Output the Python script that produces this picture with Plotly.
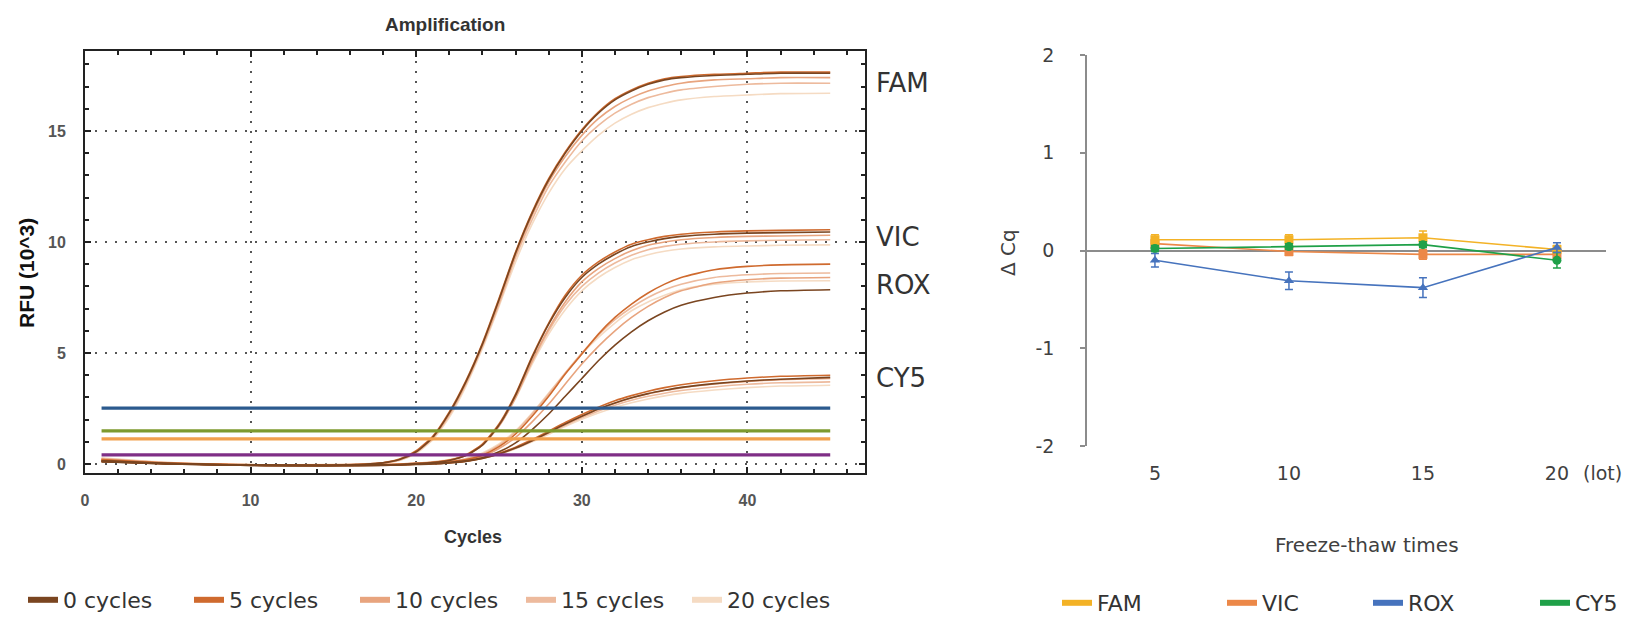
import plotly.graph_objects as go

# ---------------- Left chart data: amplification curves (RFU x10^3) ----------------
cycles = [1, 5, 10, 15, 18, 19, 20, 21, 22, 23, 24, 25, 26, 27, 28, 29, 30, 31, 32, 33, 34, 35, 36, 38, 40, 42, 45]

fam_0 = [0.15, 0.03, -0.06, -0.06, 0.05, 0.2, 0.55, 1.2, 2.3, 3.7, 5.4, 7.4, 9.5, 11.3, 12.8, 14.0, 15.0, 15.8, 16.4, 16.8, 17.1, 17.3, 17.4, 17.5, 17.55, 17.6, 17.6]
fam_5 = [0.2, 0.04, -0.05, -0.05, 0.06, 0.22, 0.6, 1.25, 2.35, 3.75, 5.45, 7.45, 9.55, 11.35, 12.85, 14.05, 15.05, 15.85, 16.45, 16.85, 17.15, 17.35, 17.45, 17.55, 17.6, 17.65, 17.65]
fam_10 = [0.22, 0.05, -0.05, -0.05, 0.05, 0.2, 0.55, 1.2, 2.25, 3.65, 5.35, 7.3, 9.4, 11.2, 12.7, 13.85, 14.8, 15.55, 16.1, 16.5, 16.8, 17.0, 17.15, 17.3, 17.35, 17.4, 17.4]
fam_15 = [0.25, 0.06, -0.04, -0.04, 0.05, 0.18, 0.52, 1.15, 2.2, 3.6, 5.3, 7.2, 9.3, 11.0, 12.5, 13.6, 14.55, 15.25, 15.8, 16.2, 16.5, 16.7, 16.85, 17.0, 17.1, 17.15, 17.15]
fam_20 = [0.28, 0.07, -0.03, -0.03, 0.04, 0.16, 0.48, 1.1, 2.1, 3.5, 5.2, 7.1, 9.1, 10.8, 12.2, 13.3, 14.1, 14.8, 15.35, 15.75, 16.05, 16.25, 16.4, 16.55, 16.62, 16.68, 16.7]

vic_0 = [0.1, 0.0, -0.05, -0.06, -0.04, -0.02, 0.02, 0.07, 0.16, 0.38, 0.85, 1.75, 3.1, 4.8, 6.3, 7.5, 8.4, 9.0, 9.45, 9.8, 10.0, 10.15, 10.25, 10.35, 10.4, 10.42, 10.45]
vic_5 = [0.12, 0.01, -0.05, -0.05, -0.03, -0.01, 0.03, 0.08, 0.18, 0.4, 0.9, 1.8, 3.15, 4.85, 6.35, 7.6, 8.5, 9.1, 9.55, 9.9, 10.1, 10.25, 10.35, 10.45, 10.5, 10.52, 10.55]
vic_10 = [0.15, 0.02, -0.04, -0.05, -0.03, -0.01, 0.03, 0.08, 0.17, 0.38, 0.85, 1.7, 3.0, 4.65, 6.1, 7.3, 8.2, 8.8, 9.25, 9.6, 9.85, 10.0, 10.1, 10.2, 10.25, 10.27, 10.3]
vic_15 = [0.18, 0.03, -0.04, -0.04, -0.02, 0.0, 0.04, 0.09, 0.18, 0.4, 0.88, 1.75, 3.0, 4.6, 6.0, 7.15, 8.0, 8.6, 9.05, 9.4, 9.65, 9.8, 9.9, 10.0, 10.05, 10.08, 10.1]
vic_20 = [0.2, 0.04, -0.03, -0.03, -0.02, 0.0, 0.04, 0.1, 0.2, 0.42, 0.9, 1.75, 2.95, 4.5, 5.85, 6.95, 7.8, 8.4, 8.85, 9.2, 9.42, 9.58, 9.68, 9.78, 9.82, 9.85, 9.87]

rox_0 = [0.15, 0.02, -0.06, -0.08, -0.06, -0.04, -0.01, 0.02, 0.07, 0.14, 0.28, 0.55, 0.95, 1.55, 2.25, 3.05, 3.85, 4.65, 5.35, 5.95, 6.45, 6.85, 7.15, 7.5, 7.7, 7.8, 7.85]
rox_5 = [0.18, 0.03, -0.05, -0.07, -0.05, -0.03, 0.0, 0.04, 0.1, 0.2, 0.4, 0.78, 1.35, 2.15, 3.05, 4.05, 4.95, 5.85, 6.6, 7.2, 7.7, 8.1, 8.4, 8.75, 8.9, 8.97, 9.0]
rox_10 = [0.2, 0.03, -0.05, -0.07, -0.05, -0.03, 0.0, 0.04, 0.09, 0.18, 0.35, 0.7, 1.2, 1.9, 2.7, 3.6, 4.5, 5.3, 6.0, 6.6, 7.1, 7.5, 7.8, 8.15, 8.3, 8.37, 8.4]
rox_15 = [0.22, 0.04, -0.04, -0.06, -0.04, -0.02, 0.01, 0.05, 0.11, 0.22, 0.45, 0.85, 1.45, 2.25, 3.15, 4.1, 5.0, 5.8, 6.5, 7.05, 7.5, 7.85, 8.1, 8.4, 8.52, 8.58, 8.6]
rox_20 = [0.25, 0.05, -0.03, -0.05, -0.04, -0.02, 0.02, 0.06, 0.12, 0.25, 0.5, 0.9, 1.5, 2.3, 3.2, 4.1, 4.95, 5.7, 6.35, 6.9, 7.3, 7.6, 7.85, 8.1, 8.2, 8.24, 8.25]

cy5_0 = [0.1, 0.0, -0.05, -0.07, -0.05, -0.04, -0.02, 0.0, 0.05, 0.12, 0.25, 0.45, 0.72, 1.05, 1.42, 1.8, 2.15, 2.48, 2.75, 2.98, 3.17, 3.32, 3.45, 3.62, 3.74, 3.82, 3.9]
cy5_5 = [0.12, 0.01, -0.05, -0.06, -0.05, -0.03, -0.01, 0.01, 0.06, 0.13, 0.27, 0.48, 0.76, 1.1, 1.48, 1.87, 2.23, 2.56, 2.85, 3.08, 3.28, 3.44, 3.57, 3.75, 3.87, 3.95, 4.0]
cy5_10 = [0.14, 0.02, -0.04, -0.06, -0.04, -0.03, -0.01, 0.01, 0.06, 0.13, 0.26, 0.46, 0.73, 1.06, 1.43, 1.8, 2.15, 2.47, 2.74, 2.97, 3.16, 3.31, 3.43, 3.6, 3.72, 3.8, 3.85]
cy5_15 = [0.16, 0.03, -0.04, -0.05, -0.04, -0.02, 0.0, 0.02, 0.06, 0.13, 0.26, 0.45, 0.71, 1.03, 1.39, 1.75, 2.08, 2.39, 2.65, 2.87, 3.05, 3.19, 3.31, 3.47, 3.59, 3.66, 3.7]
cy5_20 = [0.18, 0.04, -0.03, -0.05, -0.03, -0.02, 0.0, 0.02, 0.06, 0.13, 0.25, 0.44, 0.69, 1.0, 1.34, 1.69, 2.01, 2.3, 2.55, 2.76, 2.93, 3.07, 3.18, 3.33, 3.44, 3.51, 3.55]

conditions = ["0 cycles", "5 cycles", "10 cycles", "15 cycles", "20 cycles"]
cond_colors = ["#7A4520", "#CF6A2E", "#E8A47E", "#EDBA9D", "#F5DBC3"]

threshold_cycles = [1, 45]
threshold_values = [2.52, 1.49, 1.13, 0.41]
threshold_colors = ["#2B5A8E", "#7E9A2E", "#F2A04C", "#7F2F86"]

dye_labels = ["FAM", "VIC", "ROX", "CY5"]

# ---------------- Right chart data: delta Cq ----------------
ft_pos = [1, 2, 3, 4]
ft_labels = ["5", "10", "15", "20"]
dcq_ticks = [-2, -1, 0, 1, 2]
dcq_ticktext = ["-2", "-1", "0", "1", "2"]
fam_dcq = [0.11, 0.11, 0.13, 0.01]
fam_err = [0.05, 0.05, 0.07, 0.04]
vic_dcq = [0.07, -0.01, -0.04, -0.04]
vic_err = [0.04, 0.04, 0.05, 0.04]
rox_dcq = [-0.10, -0.31, -0.38, 0.03]
rox_err = [0.07, 0.09, 0.10, 0.05]
cy5_dcq = [0.02, 0.04, 0.06, -0.10]
cy5_err = [0.03, 0.03, 0.03, 0.08]
dye_colors = {"FAM": "#F3B226", "VIC": "#EC8848", "ROX": "#4673BD", "CY5": "#1FA048"}

W, H = 1635, 617
OFF = 8  # page body margin offset


def px(x):
    return (x - OFF) / W


def py(y):
    return 1 - (y - OFF) / H


fig = go.Figure()

curves = {
    "FAM": [fam_0, fam_5, fam_10, fam_15, fam_20],
    "VIC": [vic_0, vic_5, vic_10, vic_15, vic_20],
    "ROX": [rox_0, rox_5, rox_10, rox_15, rox_20],
    "CY5": [cy5_0, cy5_5, cy5_10, cy5_15, cy5_20],
}
# light first, dark on top
for ci in [4, 3, 2, 1, 0]:
    for dye in dye_labels:
        fig.add_trace(go.Scatter(
            x=cycles, y=curves[dye][ci], mode="lines",
            line=dict(color=cond_colors[ci], width=1.6, shape="spline", smoothing=0.6),
            showlegend=False, hoverinfo="skip", xaxis="x", yaxis="y"))

for val, col in zip(threshold_values, threshold_colors):
    fig.add_trace(go.Scatter(
        x=threshold_cycles, y=[val, val], mode="lines",
        line=dict(color=col, width=3.2), showlegend=False, hoverinfo="skip",
        xaxis="x", yaxis="y"))

# legend-only entries for left chart
for name, col in zip(conditions, cond_colors):
    fig.add_trace(go.Scatter(
        x=[None], y=[None], mode="lines", name=name,
        line=dict(color=col, width=6), legend="legend",
        xaxis="x", yaxis="y"))

# right chart series
right = [
    ("VIC", vic_dcq, vic_err, "square"),
    ("FAM", fam_dcq, fam_err, "square"),
    ("CY5", cy5_dcq, cy5_err, "circle"),
    ("ROX", rox_dcq, rox_err, "triangle-up"),
]
for name, vals, errs, sym in right:
    col = dye_colors[name]
    fig.add_trace(go.Scatter(
        x=ft_pos, y=vals, mode="lines+markers",
        line=dict(color=col, width=1.6),
        marker=dict(symbol=sym, size=9, color=col),
        error_y=dict(type="data", array=errs, color=col, thickness=1.5, width=4),
        showlegend=False, hoverinfo="skip", xaxis="x2", yaxis="y2"))

legend2_widths = {"FAM": 120, "VIC": 101, "ROX": 122, "CY5": 50}
for name in dye_labels:
    fig.add_trace(go.Scatter(
        x=[None], y=[None], mode="lines", name=name,
        line=dict(color=dye_colors[name], width=6), legend="legend2",
        legendwidth=legend2_widths[name],
        xaxis="x2", yaxis="y2"))

tickfont_left = dict(family="Liberation Sans, Arial, sans-serif", size=16, color="#555555", weight="bold")
axis_common_left = dict(
    showline=True, linecolor="#222222", linewidth=2, mirror="ticks",
    ticks="inside", ticklen=6, tickwidth=1.5, tickcolor="#222222",
    showgrid=True, gridcolor="#555555", gridwidth=1.5, griddash="2px,8px",
    zeroline=False, tickfont=tickfont_left,
)

gothic = "DejaVu Sans, Verdana, sans-serif"

fig.update_layout(
    width=W, height=H,
    margin=dict(l=0, r=0, t=0, b=0, autoexpand=False),
    paper_bgcolor="white", plot_bgcolor="white",
    xaxis=dict(domain=[px(85), px(865)], range=[0, 47.1], dtick=10, tick0=0,
               anchor="y", ticklabelstandoff=12,
               minor=dict(dtick=2, tick0=0, ticks="inside", ticklen=4, tickcolor="#222222", showgrid=False),
               **axis_common_left),
    yaxis=dict(domain=[py(473), py(51)], range=[-0.405, 18.6], dtick=5, tick0=0,
               anchor="x", ticklabelstandoff=14,
               minor=dict(dtick=1, tick0=0, ticks="inside", ticklen=4, tickcolor="#222222", showgrid=False),
               **axis_common_left),
    xaxis2=dict(domain=[px(1087), px(1606)], range=[0.493, 4.366], anchor="y2",
                tickvals=ft_pos, ticktext=ft_labels, showline=False, ticks="",
                showgrid=False, zeroline=False, ticklabelstandoff=14,
                tickfont=dict(family=gothic, size=19, color="#404040")),
    yaxis2=dict(domain=[py(446), py(55)], range=[-2, 2], anchor="x2",
                tickvals=dcq_ticks, ticktext=dcq_ticktext,
                showline=True, linecolor="#8c8c8c", linewidth=1.5,
                ticks="outside", ticklen=5, tickcolor="#8c8c8c", tickwidth=1.5,
                showgrid=False, zeroline=True, zerolinecolor="#8c8c8c", zerolinewidth=1.5,
                ticklabelstandoff=22,
                tickfont=dict(family=gothic, size=19, color="#404040")),
    legend=dict(orientation="h", x=px(23), y=py(600), xanchor="left", yanchor="middle",
                entrywidth=121, entrywidthmode="pixels", bgcolor="rgba(0,0,0,0)",
                font=dict(family=gothic, size=22, color="#333333"), itemclick=False),
    legend2=dict(orientation="h", x=px(1057), y=py(603), xanchor="left", yanchor="middle",
                 bgcolor="rgba(0,0,0,0)",
                 font=dict(family=gothic, size=22, color="#333333"), itemclick=False),
)

annotations = [
    dict(text="<b>Amplification</b>", x=px(445), y=py(25), font=dict(family="Liberation Sans, Arial", size=19, color="#333333")),
    dict(text="<b>RFU (10^3)</b>", x=px(26), y=py(273), textangle=-90, font=dict(family="Liberation Sans, Arial", size=21, color="#111111")),
    dict(text="<b>Cycles</b>", x=px(473), y=py(537), font=dict(family="Liberation Sans, Arial", size=18, color="#333333")),
    dict(text="Freeze-thaw times", x=px(1367), y=py(545), font=dict(family=gothic, size=20, color="#404040")),
    dict(text="Δ Cq", x=px(1008), y=py(252), textangle=-90, font=dict(family=gothic, size=20, color="#404040")),
    dict(text="(lot)", x=px(1602), y=py(473), font=dict(family=gothic, size=19, color="#404040")),
]
dye_label_y = [83, 237, 285, 378]
for lab, yy in zip(dye_labels, dye_label_y):
    annotations.append(dict(text=lab, x=px(874), y=py(yy), xanchor="left",
                            font=dict(family=gothic, size=26, color="#333333")))
for a in annotations:
    a.setdefault("xref", "paper")
    a.setdefault("yref", "paper")
    a.setdefault("showarrow", False)
    a.setdefault("xanchor", "center")
    a.setdefault("yanchor", "middle")
fig.update_layout(annotations=annotations)

fig.write_html("out.html")
